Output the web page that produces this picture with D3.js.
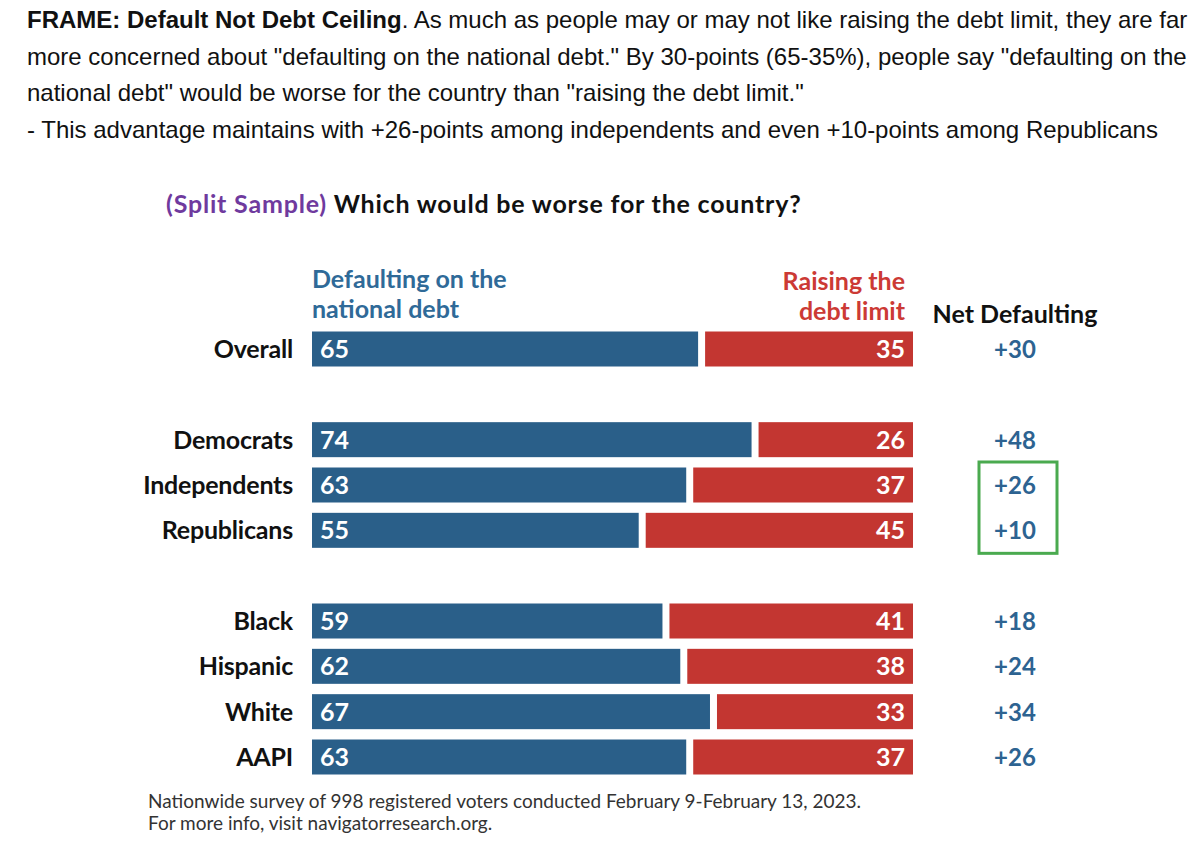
<!DOCTYPE html>
<html>
<head>
<meta charset="utf-8">
<script src="https://cdn.jsdelivr.net/npm/d3@7"></script>
<style>
  body { margin: 0; background: #fff; }
  svg text { font-family: Lato, "Open Sans", sans-serif; }
  .intro { font-family: "Liberation Sans", Arial, sans-serif !important; font-size: 24px; fill: #111; }
</style>
</head>
<body>
<svg id="chart" width="1200" height="844"></svg>
<script>
var categories = ['Overall', 'Democrats', 'Independents', 'Republicans', 'Black', 'Hispanic', 'White', 'AAPI'];
var groupOf = [0, 1, 1, 1, 2, 2, 2, 2];
var defaulting = [65, 74, 63, 55, 59, 62, 67, 63];
var raising = [35, 26, 37, 45, 41, 38, 33, 37];
var netDefaulting = ['+30', '+48', '+26', '+10', '+18', '+24', '+34', '+26'];
var highlighted = ['Independents', 'Republicans'];

var introLines = [
    [{t: 'FRAME: Default Not Debt Ceiling', b: true}, {t: '. As much as people may or may not like raising the debt limit, they are far'}],
    [{t: 'more concerned about "defaulting on the national debt." By 30-points (65-35%), people say "defaulting on the'}],
    [{t: 'national debt" would be worse for the country than "raising the debt limit."'}],
    [{t: '- This advantage maintains with +26-points among independents and even +10-points among Republicans'}]
];

var blue = '#2a5f89', red = '#c33631', netBlue = '#2d6391';

var svg = d3.select('#chart');

// intro paragraph
var intro = svg.append('text').attr('class', 'intro');
introLines.forEach((line, i) => {
    line.forEach((part, j) => {
        var ts = intro.append('tspan').text(part.t);
        if (j == 0) ts.attr('x', 27).attr('y', 28 + i * 36.5);
        if (part.b) ts.attr('font-weight', 'bold');
    });
});

// title
var title = svg.append('text').attr('x', 166).attr('y', 213)
    .attr('font-size', 25).attr('font-weight', 700).attr('letter-spacing', 0.8);
title.append('tspan').attr('fill', '#6f3a9e').text('(Split Sample) ');
title.append('tspan').attr('fill', '#111').text('Which would be worse for the country?');

// scales
var slots = categories.map((c, i) => i + groupOf[i]);
var y = d3.scalePoint().domain(d3.range(d3.max(slots) + 1)).range([349, 757]);
var x = d3.scaleLinear().domain([0, 100]).range([312, 906]);
var gap = 7, barH = 35;

// column headers
svg.append('text').attr('fill', '#2f6a98').attr('font-size', 25).attr('font-weight', 700)
    .selectAll('tspan').data(['Defaulting on the', 'national debt']).enter().append('tspan')
    .attr('x', 312).attr('y', (d, i) => 288 + i * 30).text(d => d);
svg.append('text').attr('text-anchor', 'end').attr('fill', '#cc3a35').attr('font-size', 25).attr('font-weight', 700)
    .selectAll('tspan').data(['Raising the', 'debt limit']).enter().append('tspan')
    .attr('x', 905).attr('y', (d, i) => 290 + i * 30).text(d => d);
svg.append('text').attr('x', 1015).attr('y', 323).attr('text-anchor', 'middle')
    .attr('font-size', 25).attr('font-weight', 700).attr('fill', '#111').text('Net Defaulting');

var rows = svg.selectAll('g.row')
    .data(categories)
    .enter().append('g')
    .attr('class', 'row')
    .attr('transform', (d, i) => 'translate(0,' + y(slots[i]) + ')');

rows.append('text')
    .attr('x', 293).attr('y', 9).attr('text-anchor', 'end')
    .attr('font-size', 25).attr('font-weight', 700).attr('fill', '#111')
    .attr('letter-spacing', -0.2)
    .text(d => d);

rows.append('rect')
    .attr('x', x(0)).attr('y', -barH / 2)
    .attr('width', (d, i) => x(defaulting[i]) - x(0)).attr('height', barH)
    .attr('fill', blue);

rows.append('rect')
    .attr('x', (d, i) => x(defaulting[i]) + gap).attr('y', -barH / 2)
    .attr('width', (d, i) => x(raising[i]) - x(0)).attr('height', barH)
    .attr('fill', red);

rows.append('text')
    .attr('x', x(0) + 8).attr('y', 9)
    .attr('font-size', 25).attr('font-weight', 700).attr('fill', '#fff')
    .text((d, i) => defaulting[i]);

rows.append('text')
    .attr('x', x(100) + gap - 8).attr('y', 9).attr('text-anchor', 'end')
    .attr('font-size', 25).attr('font-weight', 700).attr('fill', '#fff')
    .text((d, i) => raising[i]);

rows.append('text')
    .attr('x', 1015).attr('y', 9).attr('text-anchor', 'middle')
    .attr('font-size', 24).attr('font-weight', 700).attr('fill', netBlue)
    .text((d, i) => netDefaulting[i]);

// highlight box
var hi = highlighted.map(h => y(slots[categories.indexOf(h)]));
svg.append('rect')
    .attr('x', 979).attr('y', d3.min(hi) - 23)
    .attr('width', 78).attr('height', d3.max(hi) - d3.min(hi) + 46)
    .attr('fill', 'none').attr('stroke', '#4aaa4f').attr('stroke-width', 3);

// footer
svg.append('text').attr('fill', '#333').attr('font-size', 19)
    .selectAll('tspan')
    .data(['Nationwide survey of 998 registered voters conducted February 9-February 13, 2023.',
           'For more info, visit navigatorresearch.org.'])
    .enter().append('tspan')
    .attr('x', 148).attr('y', (d, i) => 808 + i * 22).text(d => d);
</script>
</body>
</html>
